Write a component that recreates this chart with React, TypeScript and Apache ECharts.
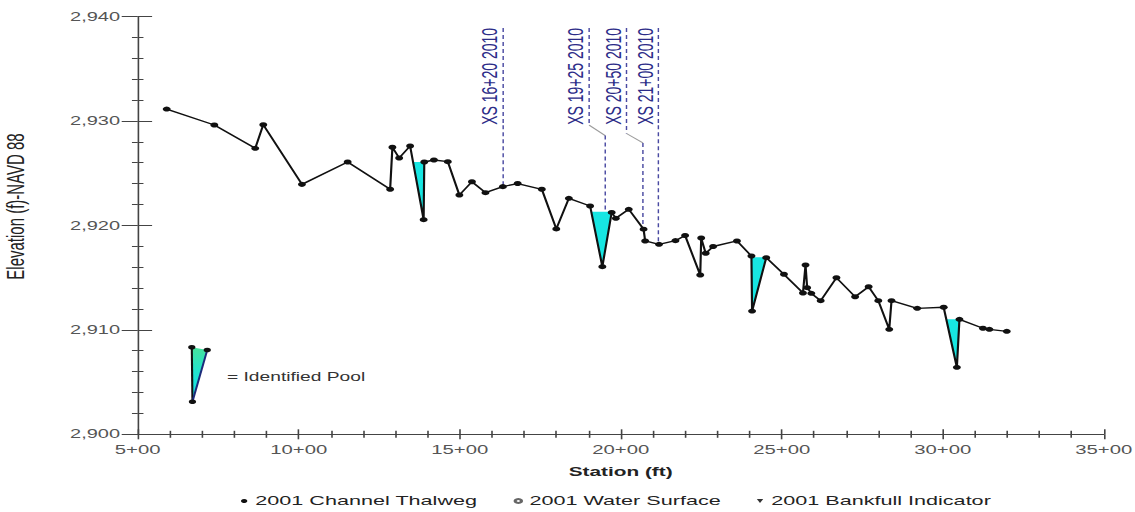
import React, { useEffect, useRef } from "react";
import * as echarts from "echarts";

// The plot is laid out on a narrower canvas and widened horizontally,
// which gives its lettering and dots their broad, stretched look.
const STRETCH = 1.6;
const PAGE_W = 1135;
const PAGE_H = 512;
const FONT = "Liberation Sans, Arial, Helvetica, sans-serif";

// 2001 channel thalweg profile: station (ft) and elevation (ft, NAVD 88)
const thalwegStation = [
  590, 738, 865, 890, 1010, 1152, 1284, 1291, 1312, 1346, 1388, 1390, 1420, 1463,
  1499, 1538, 1580, 1634, 1680, 1755, 1800, 1839, 1905, 1943, 1972, 1985, 2025,
  2071, 2076, 2119, 2170, 2200, 2247, 2250, 2264, 2287, 2361, 2406, 2408, 2452,
  2507, 2566, 2574, 2579, 2592, 2621, 2670, 2728, 2770, 2800, 2834, 2841, 2921,
  3003, 3044, 3052, 3125, 3145, 3199,
];
const thalwegElevation = [
  2931.14, 2929.61, 2927.38, 2929.64, 2923.93, 2926.07, 2923.46, 2927.48, 2926.45,
  2927.6, 2920.55, 2926.07, 2926.26, 2926.1, 2922.91, 2924.18, 2923.13, 2923.71,
  2924.01, 2923.46, 2919.66, 2922.59, 2921.86, 2916.05, 2921.24, 2920.68, 2921.54,
  2919.64, 2918.51, 2918.19, 2918.54, 2919.03, 2915.25, 2918.79, 2917.33, 2917.98,
  2918.51, 2917.07, 2911.8, 2916.91, 2915.32, 2913.53, 2916.21, 2914.04, 2913.5,
  2912.79, 2914.99, 2913.17, 2914.13, 2912.79, 2910.05, 2912.79, 2912.06, 2912.16,
  2906.41, 2911.01, 2910.15, 2910.05, 2909.86,
];

// Identified pools: water line (left / right station, elevation) and pool bottom
const poolLeftStation = [1355, 1907, 2406, 3011];
const poolRightStation = [1390, 1972, 2450, 3052];
const poolWaterElevation = [2926.07, 2921.3, 2916.95, 2911.01];
const poolBottomStation = [1388, 1943, 2408, 3044];
const poolBottomElevation = [2920.55, 2916.05, 2911.8, 2906.41];

// 2010 cross-section callouts
const xsNames = ["XS 16+20 2010", "XS 19+25 2010", "XS 20+50 2010", "XS 21+00 2010"];
const xsLabelStation = [1635, 1902, 2018, 2117];
const xsStation = [1635, 1952, 2069, 2117];
const xsBendTop = [2929.6, 2929.6, 2928.8, 2929.6];
const xsBendBottom = [2929.6, 2928.6, 2927.9, 2929.6];
const xsBaseElevation = [2923.71, 2921.3, 2919.64, 2918.19];
const xsTopElevation = 2938.9;

// Pool key drawn inside the plot
const keyStation = [668, 716, 670];
const keyElevation = [2908.33, 2908.07, 2903.12];

// Axes
const xTickValues = [500, 1000, 1500, 2000, 2500, 3000, 3500];
const xTickLabels = ["5+00", "10+00", "15+00", "20+00", "25+00", "30+00", "35+00"];
const yTickValues = [2900, 2910, 2920, 2930, 2940];
const yTickLabels = ["2,900", "2,910", "2,920", "2,930", "2,940"];

const AXIS_COLOR = "#444";
const LABEL_COLOR = "#555";

function buildOption(): echarts.EChartsOption {
  const xBase = {
    type: "value" as const,
    min: xTickValues[0],
    max: xTickValues[xTickValues.length - 1],
    interval: 500,
    position: "bottom" as const,
    splitLine: { show: false },
  };
  const yBase = {
    type: "value" as const,
    min: yTickValues[0],
    max: yTickValues[yTickValues.length - 1],
    interval: 10,
    position: "left" as const,
    splitLine: { show: false },
  };
  const tickStyle = { color: AXIS_COLOR, width: 1 };

  return {
    animation: false,
    backgroundColor: "#fff",
    textStyle: { fontFamily: FONT },
    grid: {
      left: 137.7 / STRETCH,
      right: (PAGE_W - 1104.3) / STRETCH,
      top: 16.5,
      bottom: PAGE_H - 434.3,
      containLabel: false,
      outerBoundsMode: "none",
    } as any,
    xAxis: [
      {
        ...xBase,
        axisLine: { show: true, onZero: false, lineStyle: tickStyle },
        axisTick: { show: true, inside: false, length: 5, lineStyle: tickStyle },
        minorTick: { show: true, splitNumber: 5, length: 3.5, lineStyle: tickStyle },
        axisLabel: {
          margin: 9,
          fontSize: 12.7,
          color: LABEL_COLOR,
          fontFamily: FONT,
          formatter: (v: number) => xTickLabels[xTickValues.indexOf(v)] ?? "",
        },
        name: "Station (ft)",
        nameLocation: "middle",
        nameGap: 31,
        nameTextStyle: { fontSize: 13, fontWeight: "bold", color: "#222", fontFamily: FONT },
      },
      {
        ...xBase,
        axisLine: { show: false, onZero: false },
        axisTick: { show: true, inside: true, length: 5, lineStyle: tickStyle },
        minorTick: { show: true, splitNumber: 5, length: 3.5, lineStyle: tickStyle },
        axisLabel: { show: false },
      },
    ],
    yAxis: [
      {
        ...yBase,
        axisLine: { show: true, onZero: false, lineStyle: tickStyle },
        axisTick: { show: true, inside: false, length: 10, lineStyle: tickStyle },
        minorTick: { show: true, splitNumber: 5, length: 3.6, lineStyle: tickStyle },
        axisLabel: {
          margin: 11,
          fontSize: 12.5,
          color: LABEL_COLOR,
          fontFamily: FONT,
          formatter: (v: number) => yTickLabels[yTickValues.indexOf(v)] ?? "",
        },
      },
      {
        ...yBase,
        axisLine: { show: false, onZero: false },
        axisTick: { show: true, inside: true, length: 9, lineStyle: tickStyle },
        minorTick: { show: true, splitNumber: 5, length: 3.6, lineStyle: tickStyle },
        axisLabel: { show: false },
      },
    ],
    legend: {
      data: [
        { name: "2001 Channel Thalweg", icon: "circle" },
        { name: "2001 Water Surface", icon: "emptyCircle" },
        { name: "2001 Bankfull Indicator", icon: "path://M0,0L10,0L5,10Z" },
      ],
      left: 145.6,
      top: 489,
      itemWidth: 4,
      itemHeight: 4,
      itemGap: 22.5,
      selectedMode: false,
      textStyle: { fontSize: 13.5, color: "#222", fontFamily: FONT },
    },
    graphic: [
      {
        type: "text",
        x: 10,
        y: 206.5,
        rotation: Math.PI / 2,
        style: {
          text: "Elevation (f)-NAVD 88",
          fontSize: 15,
          fontFamily: FONT,
          fill: "#222",
          align: "center",
          verticalAlign: "middle",
        },
      },
      {
        type: "text",
        x: 227 / STRETCH,
        y: 376.7,
        style: {
          text: "= Identified Pool",
          fontSize: 12,
          fontFamily: FONT,
          fill: "#333",
          align: "left",
          verticalAlign: "middle",
        },
      },
    ],
    series: [
      {
        name: "Cross sections",
        type: "custom",
        xAxisIndex: 0,
        yAxisIndex: 0,
        z: 1,
        silent: true,
        encode: { x: [0, 1], y: [2, 3, 4] },
        data: xsNames.map((_, i) => [
          xsLabelStation[i],
          xsStation[i],
          xsBendTop[i],
          xsBendBottom[i],
          xsBaseElevation[i],
        ]),
        renderItem: (params: any, api: any) => {
          const i = params.dataIndex;
          const top = api.coord([api.value(0), xsTopElevation]);
          const bendA = api.coord([api.value(0), api.value(2)]);
          const bendB = api.coord([api.value(1), api.value(3)]);
          const base = api.coord([api.value(1), api.value(4)]);
          const dashed = { stroke: "#4a4aa2", lineWidth: 0.9, lineDash: [4, 3] };
          return {
            type: "group",
            children: [
              {
                type: "line",
                shape: { x1: top[0], y1: top[1], x2: bendA[0], y2: bendA[1] },
                style: dashed,
              },
              {
                type: "line",
                shape: { x1: bendA[0], y1: bendA[1], x2: bendB[0], y2: bendB[1] },
                style: { stroke: "#9c9c9c", lineWidth: 0.9 },
              },
              {
                type: "line",
                shape: { x1: bendB[0], y1: bendB[1], x2: base[0], y2: base[1] },
                style: dashed,
              },
              {
                type: "text",
                x: top[0] - 1.5,
                y: top[1],
                rotation: Math.PI / 2,
                style: {
                  text: xsNames[i],
                  align: "right",
                  verticalAlign: "bottom",
                  fontSize: 14,
                  fontFamily: FONT,
                  fill: "#2c2c88",
                },
              },
            ],
          };
        },
      } as any,
      {
        name: "Identified pools",
        type: "custom",
        xAxisIndex: 0,
        yAxisIndex: 0,
        z: 2,
        silent: true,
        encode: { x: [0, 1, 3], y: [2, 4] },
        data: poolLeftStation.map((s, i) => [
          s,
          poolRightStation[i],
          poolWaterElevation[i],
          poolBottomStation[i],
          poolBottomElevation[i],
        ]),
        renderItem: (_params: any, api: any) => {
          const a = api.coord([api.value(0), api.value(2)]);
          const b = api.coord([api.value(1), api.value(2)]);
          const c = api.coord([api.value(3), api.value(4)]);
          return {
            type: "polygon",
            shape: { points: [a, b, c] },
            style: { fill: "#17e6e2" },
          };
        },
      } as any,
      {
        name: "Pool key",
        type: "custom",
        xAxisIndex: 0,
        yAxisIndex: 0,
        z: 3,
        silent: true,
        encode: { x: [0, 2, 4], y: [1, 3, 5] },
        data: [
          [keyStation[0], keyElevation[0], keyStation[1], keyElevation[1], keyStation[2], keyElevation[2]],
        ],
        renderItem: (_params: any, api: any) => {
          const p1 = api.coord([api.value(0), api.value(1)]);
          const p2 = api.coord([api.value(2), api.value(3)]);
          const p3 = api.coord([api.value(4), api.value(5)]);
          const dot = (p: number[]) => ({
            type: "circle",
            shape: { cx: p[0], cy: p[1], r: 2.3 },
            style: { fill: "#111" },
          });
          return {
            type: "group",
            children: [
              {
                type: "polygon",
                shape: { points: [p1, p2, p3] },
                style: {
                  fill: new echarts.graphic.LinearGradient(0, 0, 0, 1, [
                    { offset: 0, color: "#46e29c" },
                    { offset: 0.45, color: "#22e4cf" },
                    { offset: 1, color: "#10e2ee" },
                  ]),
                },
              },
              {
                type: "line",
                shape: { x1: p1[0], y1: p1[1], x2: p3[0], y2: p3[1] },
                style: { stroke: "#111", lineWidth: 1.3 },
              },
              {
                type: "line",
                shape: { x1: p3[0], y1: p3[1], x2: p2[0], y2: p2[1] },
                style: { stroke: "#1c2a7a", lineWidth: 1.3 },
              },
              dot(p1),
              dot(p2),
              dot(p3),
            ],
          };
        },
      } as any,
      {
        name: "2001 Channel Thalweg",
        type: "line",
        xAxisIndex: 0,
        yAxisIndex: 0,
        z: 4,
        silent: true,
        data: thalwegStation.map((s, i) => [s, thalwegElevation[i]]),
        symbol: "circle",
        symbolSize: 5,
        showSymbol: true,
        lineStyle: { color: "#111", width: 1.35 },
        itemStyle: { color: "#111" },
      },
      {
        name: "2001 Water Surface",
        type: "line",
        xAxisIndex: 0,
        yAxisIndex: 0,
        data: [],
        itemStyle: { color: "#666" },
        lineStyle: { color: "#666" },
      },
      {
        name: "2001 Bankfull Indicator",
        type: "line",
        xAxisIndex: 0,
        yAxisIndex: 0,
        data: [],
        itemStyle: { color: "#333" },
        lineStyle: { color: "#333" },
      },
    ],
  };
}

export default function App() {
  const ref = useRef<HTMLDivElement>(null);

  useEffect(() => {
    if (!ref.current) return;
    const chart = echarts.init(ref.current, null, { renderer: "svg" });
    chart.setOption(buildOption());
    return () => chart.dispose();
  }, []);

  return (
    <div
      ref={ref}
      style={{
        position: "absolute",
        left: 0,
        top: 0,
        width: PAGE_W / STRETCH,
        height: PAGE_H,
        transform: `scaleX(${STRETCH})`,
        transformOrigin: "0 0",
        background: "#fff",
      }}
    />
  );
}
